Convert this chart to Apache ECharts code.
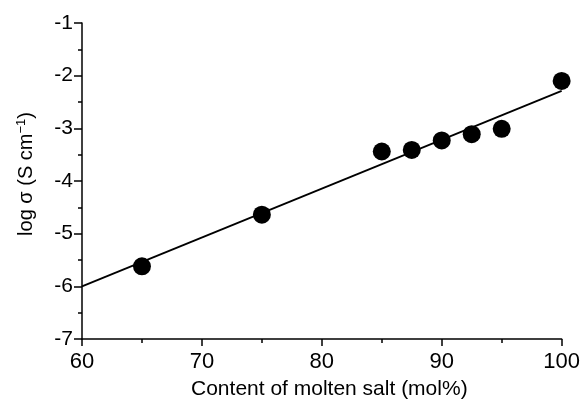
<!DOCTYPE html>
<html>
<head>
<meta charset="utf-8">
<script src="https://cdn.jsdelivr.net/npm/echarts@6/dist/echarts.min.js"></script>
<style>
  html, body { margin: 0; padding: 0; background: #fff; }
  #chart { width: 583px; height: 405px; }
</style>
</head>
<body>
<div id="chart"></div>
<script>
// measured points
var saltContent = [65, 75, 85, 87.5, 90, 92.5, 95, 100];
var logSigma = [-5.62, -4.64, -3.44, -3.41, -3.23, -3.11, -3.01, -2.1];
// fitted line end points
var fitX = [60, 100];
var fitY = [-6.0, -2.29];

var chart = echarts.init(document.getElementById("chart"));
var font = "Liberation Sans, Arial, Helvetica, sans-serif";

chart.setOption({
  backgroundColor: "#fff",
  animation: false,
  grid: {
    left: 82,
    right: 20,
    top: 23,
    bottom: 64
  },
  xAxis: {
    type: "value",
    min: 60,
    max: 100,
    interval: 10,
    name: "Content of molten salt (mol%)",
    nameLocation: "middle",
    nameGap: 40,
    nameTextStyle: { color: "#000", fontSize: 21, fontFamily: font, padding: [0, 0, 0, 15] },
    axisLine: { lineStyle: { color: "#000", width: 1.5 } },
    axisTick: { length: 7, lineStyle: { color: "#000", width: 1.5 } },
    minorTick: { show: true, splitNumber: 2, length: 4, lineStyle: { color: "#000", width: 1.5 } },
    axisLabel: { color: "#000", fontSize: 22, fontFamily: font, margin: 12 },
    splitLine: { show: false }
  },
  yAxis: {
    type: "value",
    min: -7,
    max: -1,
    interval: 1,
    name: "log σ (S cm{sup|−1})",
    nameLocation: "middle",
    nameGap: 44,
    nameRotate: 90,
    nameTextStyle: {
      color: "#000", fontSize: 20, fontFamily: font, padding: [0, 0, 0, 14],
      rich: {
        sup: { fontSize: 13, fontFamily: font, color: "#000", padding: [0, 0, 10, 0] }
      }
    },
    axisLine: { lineStyle: { color: "#000", width: 1.5 } },
    axisTick: { length: 8, lineStyle: { color: "#000", width: 1.5 } },
    minorTick: { show: true, splitNumber: 2, length: 4, lineStyle: { color: "#000", width: 1.5 } },
    axisLabel: { color: "#000", fontSize: 21, fontFamily: font, margin: 9 },
    splitLine: { show: false }
  },
  series: [
    {
      type: "line",
      data: fitX.map(function (x, i) { return [x, fitY[i]]; }),
      showSymbol: false,
      symbol: "none",
      lineStyle: { color: "#000", width: 1.8 },
      z: 1
    },
    {
      type: "scatter",
      data: saltContent.map(function (x, i) { return [x, logSigma[i]]; }),
      symbol: "circle",
      symbolSize: 18,
      itemStyle: { color: "#000", opacity: 1 },
      z: 2
    }
  ]
});
</script>
</body>
</html>
